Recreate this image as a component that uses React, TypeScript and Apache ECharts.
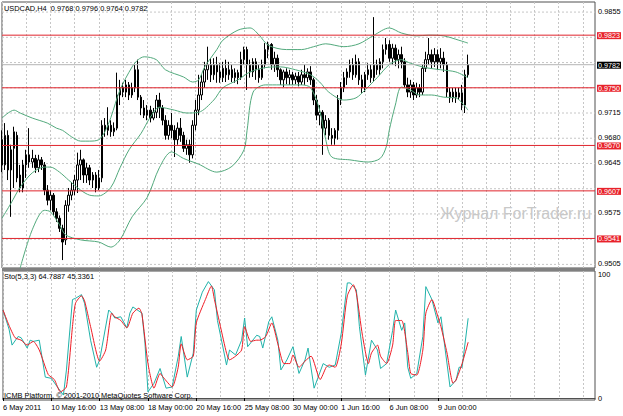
import React, { useEffect, useRef } from "react";
import * as echarts from "echarts";

const symbolTitle = "USDCAD,H4\u00a0\u00a00.9768 0.9796 0.9764 0.9782";
const stochTitle = "Sto(5,3,3) 64.7887 45.3361";
const copyright = "ICMB Platform, © 2001-2010 MetaQuotes Software Corp.";
const watermark = "Журнал ForTrader.ru";

const timeLabels = [
  "6 May 2011", "10 May 16:00", "13 May 08:00", "18 May 00:00", "20 May 16:00",
  "25 May 08:00", "30 May 00:00", "1 Jun 16:00", "6 Jun 08:00", "9 Jun 00:00",
];
const labelEvery = 16;
const gridEvery = 8;
const totalSlots = 197;

const priceTicks = [0.9855, 0.982, 0.9785, 0.975, 0.9715, 0.968, 0.9645, 0.961, 0.9575, 0.954, 0.9505];
const levels = [0.9823, 0.975, 0.967, 0.9607, 0.9541];
const lastPrice = 0.9782;
const stochTicks = [100, 0];

// [open, close, low, high]
const candles = [
  [0.9678,0.9643,0.9633,0.9691],[0.9643,0.9684,0.9636,0.9701],[0.9684,0.9636,0.9622,0.9691],[0.9636,0.9664,0.9571,0.9671],
  [0.9666,0.9689,0.9611,0.9696],[0.9684,0.9625,0.9619,0.9689],[0.9629,0.9611,0.9605,0.9643],[0.9611,0.9643,0.9605,0.9650],
  [0.9643,0.9657,0.9625,0.9664],[0.9657,0.9647,0.9639,0.9694],[0.9647,0.9652,0.9639,0.9664],[0.9652,0.9639,0.9632,0.9657],
  [0.9639,0.9650,0.9633,0.9657],[0.9650,0.9643,0.9636,0.9654],[0.9643,0.9608,0.9601,0.9647],[0.9608,0.9594,0.9587,0.9615],
  [0.9594,0.9601,0.9580,0.9608],[0.9601,0.9578,0.9573,0.9604],[0.9578,0.9569,0.9564,0.9583],[0.9569,0.9555,0.9550,0.9573],
  [0.9555,0.9536,0.9511,0.9560],[0.9539,0.9587,0.9532,0.9594],[0.9587,0.9601,0.9578,0.9611],[0.9601,0.9608,0.9594,0.9619],
  [0.9608,0.9622,0.9601,0.9629],[0.9622,0.9643,0.9604,0.9660],[0.9643,0.9650,0.9622,0.9664],[0.9650,0.9629,0.9618,0.9652],
  [0.9629,0.9639,0.9618,0.9646],[0.9639,0.9622,0.9615,0.9643],[0.9622,0.9629,0.9611,0.9633],[0.9629,0.9611,0.9605,0.9633],
  [0.9611,0.9625,0.9608,0.9636],[0.9625,0.9698,0.9619,0.9705],[0.9698,0.9691,0.9682,0.9708],[0.9691,0.9698,0.9684,0.9723],
  [0.9698,0.9689,0.9682,0.9705],[0.9689,0.9694,0.9683,0.9702],[0.9694,0.9740,0.9691,0.9771],[0.9740,0.9750,0.9726,0.9761],
  [0.9750,0.9744,0.9737,0.9757],[0.9744,0.9754,0.9737,0.9761],[0.9754,0.9740,0.9733,0.9758],[0.9740,0.9750,0.9736,0.9757],
  [0.9750,0.9775,0.9744,0.9782],[0.9775,0.9737,0.9733,0.9789],[0.9737,0.9722,0.9712,0.9740],[0.9722,0.9712,0.9708,0.9733],
  [0.9712,0.9719,0.9705,0.9726],[0.9719,0.9708,0.9702,0.9725],[0.9708,0.9716,0.9705,0.9722],[0.9716,0.9733,0.9708,0.9740],
  [0.9733,0.9722,0.9708,0.9743],[0.9722,0.9705,0.9698,0.9726],[0.9705,0.9684,0.9678,0.9712],[0.9684,0.9698,0.9678,0.9705],
  [0.9698,0.9691,0.9680,0.9715],[0.9691,0.9678,0.9654,0.9698],[0.9678,0.9694,0.9671,0.9702],[0.9694,0.9684,0.9675,0.9708],
  [0.9684,0.9666,0.9661,0.9689],[0.9666,0.9671,0.9657,0.9678],[0.9671,0.9657,0.9646,0.9678],[0.9657,0.9698,0.9652,0.9705],
  [0.9698,0.9719,0.9691,0.9733],[0.9719,0.9740,0.9712,0.9768],[0.9740,0.9758,0.9733,0.9768],[0.9758,0.9775,0.9750,0.9786],
  [0.9775,0.9782,0.9761,0.9807],[0.9782,0.9768,0.9758,0.9791],[0.9768,0.9782,0.9761,0.9791],[0.9782,0.9772,0.9757,0.9793],
  [0.9772,0.9764,0.9757,0.9784],[0.9764,0.9777,0.9758,0.9786],[0.9777,0.9768,0.9758,0.9789],[0.9768,0.9775,0.9761,0.9786],
  [0.9775,0.9764,0.9758,0.9782],[0.9764,0.9771,0.9757,0.9777],[0.9771,0.9764,0.9755,0.9775],[0.9764,0.9789,0.9761,0.9800],
  [0.9789,0.9803,0.9782,0.9807],[0.9803,0.9782,0.9747,0.9807],[0.9782,0.9772,0.9764,0.9789],[0.9772,0.9786,0.9765,0.9791],
  [0.9786,0.9775,0.9761,0.9791],[0.9775,0.9764,0.9757,0.9782],[0.9764,0.9782,0.9761,0.9789],[0.9782,0.9803,0.9777,0.9812],
  [0.9803,0.9810,0.9791,0.9814],[0.9810,0.9782,0.9775,0.9812],[0.9782,0.9791,0.9772,0.9800],[0.9791,0.9775,0.9765,0.9796],
  [0.9775,0.9761,0.9754,0.9777],[0.9761,0.9772,0.9751,0.9775],[0.9772,0.9764,0.9755,0.9777],[0.9764,0.9768,0.9754,0.9775],
  [0.9768,0.9761,0.9754,0.9772],[0.9761,0.9766,0.9755,0.9771],[0.9766,0.9758,0.9752,0.9772],[0.9758,0.9768,0.9754,0.9775],
  [0.9768,0.9764,0.9754,0.9782],[0.9764,0.9772,0.9758,0.9777],[0.9772,0.9761,0.9754,0.9780],[0.9761,0.9733,0.9726,0.9764],
  [0.9733,0.9712,0.9705,0.9740],[0.9712,0.9716,0.9698,0.9726],[0.9716,0.9694,0.9657,0.9719],[0.9694,0.9705,0.9684,0.9712],
  [0.9705,0.9684,0.9678,0.9708],[0.9684,0.9680,0.9671,0.9694],[0.9680,0.9691,0.9671,0.9694],[0.9691,0.9733,0.9678,0.9740],
  [0.9733,0.9750,0.9726,0.9758],[0.9750,0.9764,0.9744,0.9772],[0.9764,0.9772,0.9754,0.9777],[0.9772,0.9782,0.9764,0.9789],
  [0.9782,0.9768,0.9761,0.9791],[0.9768,0.9786,0.9764,0.9796],[0.9786,0.9761,0.9754,0.9791],[0.9761,0.9750,0.9743,0.9768],
  [0.9750,0.9768,0.9744,0.9772],[0.9768,0.9775,0.9761,0.9784],[0.9775,0.9764,0.9757,0.9782],[0.9764,0.9782,0.9758,0.9848],
  [0.9782,0.9775,0.9768,0.9789],[0.9775,0.9786,0.9768,0.9791],[0.9786,0.9803,0.9777,0.9810],[0.9803,0.9810,0.9796,0.9819],
  [0.9810,0.9791,0.9786,0.9816],[0.9791,0.9805,0.9782,0.9811],[0.9805,0.9789,0.9780,0.9810],[0.9789,0.9796,0.9777,0.9803],
  [0.9796,0.9786,0.9777,0.9807],[0.9786,0.9754,0.9750,0.9791],[0.9754,0.9744,0.9737,0.9764],[0.9744,0.9754,0.9736,0.9761],
  [0.9754,0.9740,0.9733,0.9758],[0.9740,0.9750,0.9736,0.9757],[0.9750,0.9744,0.9737,0.9755],[0.9744,0.9777,0.9740,0.9782],
  [0.9777,0.9789,0.9772,0.9800],[0.9789,0.9796,0.9782,0.9819],[0.9796,0.9786,0.9777,0.9803],[0.9786,0.9796,0.9779,0.9805],
  [0.9796,0.9786,0.9775,0.9803],[0.9786,0.9791,0.9777,0.9805],[0.9791,0.9782,0.9772,0.9800],[0.9782,0.9744,0.9737,0.9786],
  [0.9744,0.9736,0.9729,0.9750],[0.9736,0.9744,0.9730,0.9750],[0.9744,0.9737,0.9729,0.9750],[0.9737,0.9743,0.9733,0.9750],
  [0.9743,0.9726,0.9719,0.9754],[0.9726,0.9768,0.9715,0.9775],[0.9768,0.9782,0.9764,0.9796],
];

// Bollinger bands: [bar index, price]
const bbUpper = [
  [0,0.9708],[4,0.9719],[6,0.9715],[10,0.9708],[15,0.9701],[18,0.9694],[20,0.9691],[23,0.9682],[26,0.9676],[29,0.9676],
  [32,0.9678],[34,0.9689],[36,0.9709],[39,0.9747],[43,0.9779],[45,0.9789],[47,0.9793],[51,0.9789],[54,0.9775],[60,0.9765],
  [63,0.9758],[65,0.9761],[67,0.9779],[71,0.9803],[73,0.9816],[78,0.983],[82,0.9833],[85,0.9823],[88,0.9809],[94,0.9803],
  [99,0.9803],[103,0.9807],[107,0.9811],[113,0.9807],[118,0.9811],[123,0.9823],[128,0.9833],[132,0.9826],[137,0.9822],
  [141,0.9823],[146,0.9822],[151,0.9816],[154,0.9812],
];
const bbMiddle = [
  [0,0.9569],[3,0.959],[6,0.9612],[10,0.9632],[14,0.964],[16,0.964],[19,0.9633],[22,0.9622],[26,0.9608],[29,0.9601],
  [32,0.96],[36,0.9612],[39,0.9639],[42,0.9664],[46,0.9687],[49,0.9709],[52,0.9723],[57,0.9719],[61,0.9715],[65,0.9716],
  [70,0.9733],[73,0.975],[78,0.9761],[82,0.9772],[87,0.9778],[92,0.9779],[97,0.9775],[102,0.9768],[105,0.9758],[108,0.9744],
  [113,0.9733],[117,0.9736],[120,0.9747],[124,0.9764],[128,0.9782],[132,0.9789],[135,0.9784],[140,0.9778],[145,0.9775],
  [150,0.9772],[154,0.9764],
];
const bbLower = [
  [6,0.95],[10,0.9553],[14,0.958],[16,0.9578],[19,0.956],[21,0.9546],[26,0.9539],[32,0.9536],[36,0.9529],[39,0.9539],
  [43,0.9571],[48,0.9598],[52,0.9639],[56,0.9661],[60,0.9652],[65,0.9644],[71,0.9633],[76,0.9641],[80,0.9664],[81,0.9691],
  [83,0.9744],[87,0.9754],[92,0.9754],[99,0.9754],[102,0.975],[105,0.9719],[107,0.9678],[109,0.9654],[115,0.965],[121,0.9647],
  [125,0.9652],[127,0.9668],[128,0.9691],[130,0.9726],[132,0.9751],[135,0.9747],[138,0.974],[142,0.974],[146,0.9737],
  [150,0.9736],[154,0.9719],
];

// Stochastic (5,3,3): [bar index, value]
const stochMain = [
  [0,71.5],[2,56],[3,43],[5,50],[6,49],[8,40.6],[9,47],[10,46],[12,47],[14,17],[16,16],[18,9],[20,2.4],[21,22.8],[23,80],
  [24,81],[26,84],[27,77],[29,47],[31,25],[32,31],[35,71.5],[36,69],[37,65],[39,66],[41,57],[42,69],[43,74],[46,69],[47,44.7],
  [48,5],[50,12],[52,24],[54,8],[56,9],[58,33.6],[59,50],[61,17],[63,36.6],[64,71.5],[66,86],[68,94.6],[70,87.8],[71,63],
  [73,39],[74,26.8],[75,39],[77,35],[79,47],[80,65],[81,41.7],[84,51],[85,50],[86,40.6],[88,62],[89,66],[91,47],[92,22.8],
  [94,31],[96,41.7],[98,20],[100,31],[101,40.6],[103,8],[106,28],[108,25],[110,26.8],[112,52.8],[114,93.5],[115,93.5],
  [117,87.8],[118,58],[120,18.7],[122,47],[124,39],[125,24],[127,28],[129,55],[130,71.5],[132,55],[133,61],[134,25],[135,16],
  [137,20],[139,50],[140,90.5],[142,80],[144,61],[145,66],[146,47],[148,9],[150,14.6],[151,25],[152,25],[154,64.7887],
];
const stochSignal = [
  [0,71.5],[2,59],[4,49],[6,47],[8,43],[10,46],[12,39],[15,19],[17,15],[19,5],[21,9],[23,58],[24,77],[26,83],[27,79],[29,58],
  [32,30],[34,39],[36,69],[37,66],[39,63],[41,57],[43,69],[45,73],[46,68],[48,28],[50,8],[52,20],[53,17],[56,9],[58,25],
  [59,44],[61,31],[63,34],[64,61],[67,80],[69,91],[70,80],[72,58],[74,36.6],[75,31],[77,34],[79,39],[80,58],[82,46],[84,47],
  [85,47],[87,50],[89,61],[91,44],[93,28],[95,28],[96,35],[98,25],[100,30],[102,34],[105,15],[107,25],[108,26.8],[110,25],
  [112,44],[114,83],[116,92],[117,85],[119,51],[121,28],[122,36.6],[124,43],[125,34],[127,28],[129,43],[130,63],[132,63],
  [134,37],[135,20],[137,18.7],[139,39],[140,69],[142,80],[144,66],[145,58],[147,36.6],[149,12],[150,14.6],[152,28],[154,45.3361],
];

const FONT = "'Liberation Sans', Arial, sans-serif";
const FS = 7.4;

export default function App() {
  const ref = useRef<HTMLDivElement>(null);
  useEffect(() => {
    if (!ref.current) return;
    const chart = echarts.init(ref.current, undefined, { renderer: "svg" });
    const cats = Array.from({ length: totalSlots }, (_, i) => String(i));
    const lastSlot = totalSlots - 1;
    const isLabelIdx = (i: number) => i % labelEvery === 0 && i / labelEvery < timeLabels.length;
    const gridLine = { show: true, interval: (i: number) => i % gridEvery === 0, lineStyle: { color: "#c6c6c6", type: [2, 2], width: 1 } };
    const covered = (v: number) => [...levels, lastPrice].some((l) => Math.abs(l - v) < 0.0006);
    const bandStyle = { color: "#52a97c", width: 1 };

    const hLine = (v: number, axis: number, lineStyle: any, label: any, z: number) => ({
      type: "line", xAxisIndex: axis, yAxisIndex: axis, data: [[0, v], [lastSlot, v]],
      showSymbol: false, symbol: "none", silent: true, z, lineStyle,
      endLabel: label,
    });
    const boxLabel = (v: number, bg: string) => ({
      show: true, distance: 2, formatter: v.toFixed(4), fontSize: 7.2, color: "#fff", offset: [0, 0.5],
      backgroundColor: bg, padding: [0, 1, 0, 1], lineHeight: 7, fontFamily: FONT, align: "left", verticalAlign: "middle",
    });
    const plainLabel = (text: string, show = true) => ({
      show, distance: 3, formatter: text, fontSize: FS, lineHeight: 7, color: "#000", fontFamily: FONT,
      align: "left", verticalAlign: "middle", offset: [0, -1],
    });

    const series: any[] = [
      ...priceTicks.map((v) =>
        hLine(v, 0, { color: "#c6c6c6", type: [2, 2], width: 1 }, plainLabel(v.toFixed(4), !covered(v)), 1)
      ),
      {
        type: "candlestick", xAxisIndex: 0, yAxisIndex: 0, data: candles, barWidth: 2, z: 3,
        itemStyle: { color: "#ffffff", color0: "#000000", borderColor: "#000000", borderColor0: "#000000", borderWidth: 1 },
      },
      { type: "line", xAxisIndex: 0, yAxisIndex: 0, data: bbUpper, showSymbol: false, smooth: 0.3, lineStyle: bandStyle, z: 4 },
      { type: "line", xAxisIndex: 0, yAxisIndex: 0, data: bbMiddle, showSymbol: false, smooth: 0.3, lineStyle: bandStyle, z: 4 },
      { type: "line", xAxisIndex: 0, yAxisIndex: 0, data: bbLower, showSymbol: false, smooth: 0.3, lineStyle: bandStyle, z: 4 },
      hLine(lastPrice, 0, { color: "#b4b4b4", width: 1 }, boxLabel(lastPrice, "#000"), 5),
      ...levels.map((v) => hLine(v, 0, { color: "#e0242c", width: 1 }, boxLabel(v, "#e8222b"), 6)),
      {
        type: "line", xAxisIndex: 1, yAxisIndex: 1, data: stochMain, showSymbol: false,
        lineStyle: { color: "#20b2aa", width: 1 }, z: 3,
      },
      {
        type: "line", xAxisIndex: 1, yAxisIndex: 1, data: stochSignal, showSymbol: false, smooth: 0.2,
        lineStyle: { color: "#ee1c25", width: 1 }, z: 4,
      },
      ...stochTicks.map((v) => hLine(v, 1, { width: 0, opacity: 0 }, { ...plainLabel(String(v)), offset: [0, 0] }, 1)),
    ];

    const option: any = {
      animation: false,
      backgroundColor: "#ffffff",
      textStyle: { fontFamily: FONT },
      grid: [
        { left: 2, right: 28, top: 2, height: 266, show: true, borderColor: "#505050", borderWidth: 1 },
        { left: 2, right: 28, top: 271, height: 129, show: true, borderColor: "#505050", borderWidth: 1 },
      ],
      xAxis: [
        {
          type: "category", gridIndex: 0, data: cats, boundaryGap: false,
          axisLine: { show: false }, axisTick: { show: false }, axisLabel: { show: false }, splitLine: gridLine,
        },
        {
          type: "category", gridIndex: 1, data: cats, boundaryGap: false,
          axisLine: { show: true, lineStyle: { color: "#505050" } },
          axisTick: { show: true, interval: isLabelIdx, length: 3, lineStyle: { color: "#000" } },
          axisLabel: {
            show: true, interval: isLabelIdx, align: "left", margin: 4, fontSize: FS, color: "#000", fontFamily: FONT,
            formatter: (_v: string, i: number) => timeLabels[i / labelEvery] ?? "",
          },
          splitLine: gridLine,
        },
      ],
      yAxis: [
        { type: "value", gridIndex: 0, min: 0.95, max: 0.9869, show: false },
        { type: "value", gridIndex: 1, min: -1.6, max: 103.2, show: false },
      ],
      series,
      graphic: [
        { type: "rect", left: 2, top: 268, shape: { width: 593, height: 3 }, style: { fill: "#808080" }, z: 10 },
        { type: "text", left: 440, top: 205, z: 0, style: { text: watermark, fontSize: 16, fill: "#c8c8c8", fontFamily: FONT } },
        { type: "text", left: 4, top: 5, z: 20, style: { text: symbolTitle, fontSize: FS, fill: "#000", fontFamily: FONT } },
        { type: "text", left: 4, top: 273, z: 20, style: { text: stochTitle, fontSize: FS, fill: "#000", fontFamily: FONT } },
        { type: "text", left: 4, top: 392, z: 20, style: { text: copyright, fontSize: FS, fill: "#000", fontFamily: FONT } },
      ],
    };
    chart.setOption(option);
    return () => chart.dispose();
  }, []);
  return <div ref={ref} style={{ position: "fixed", left: 0, top: 0, width: 623, height: 416, background: "#fff" }} />;
}
